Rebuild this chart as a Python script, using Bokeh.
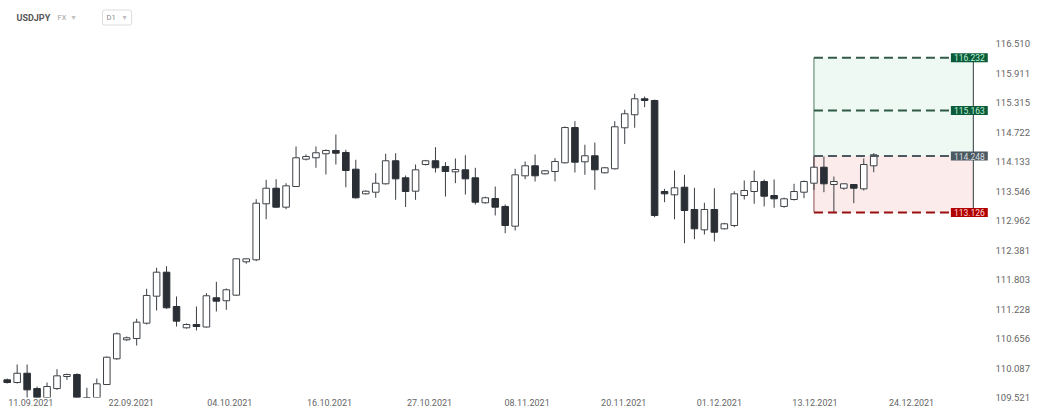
from bokeh.plotting import figure
from bokeh.models import FixedTicker, NumeralTickFormatter, Label, Range1d
from bokeh.embed import file_html
from bokeh.resources import INLINE

# ---- data (USDJPY, D1) ----
opens = [109.860, 109.808, 109.987, 109.693, 109.450, 109.693, 109.924, 109.962, 109.420, 109.350,
         109.770, 110.265, 110.632, 110.657, 110.955, 111.480, 111.949, 111.279, 110.865, 110.929,
         110.880, 111.449, 111.391, 111.500, 112.153, 112.192, 113.297, 113.606, 113.230, 113.640,
         114.185, 114.213, 114.293, 114.359, 114.319, 113.985, 113.495, 113.527, 113.694, 114.153,
         113.813, 113.547, 114.079, 114.153, 114.039, 113.933, 113.973, 113.813, 113.317, 113.402,
         113.244, 112.854, 113.853, 114.053, 113.893, 113.939, 114.113, 114.819, 114.133, 114.253,
         113.913, 113.993, 114.814, 115.076, 115.398, 115.364, 113.541, 113.475, 113.626, 113.184,
         112.782, 113.184, 112.802, 112.867, 113.461, 113.541, 113.740, 113.461, 113.244, 113.382,
         113.527, 113.706, 114.025, 113.680, 113.606, 113.680, 113.594, 114.053]
highs = [109.885, 110.155, 110.155, 109.732, 109.809, 110.065, 109.980, 109.987, 109.707, 109.885,
         110.310, 110.774, 110.696, 111.040, 111.625, 112.036, 112.067, 111.474, 110.950, 111.279,
         111.539, 111.761, 111.630, 112.220, 112.220, 113.388, 113.774, 113.786, 113.706, 114.439,
         114.279, 114.439, 114.380, 114.679, 114.373, 114.173, 113.560, 113.905, 114.293, 114.305,
         113.859, 114.079, 114.170, 114.425, 114.125, 114.199, 114.265, 114.013, 113.440, 113.640,
         113.283, 113.993, 114.139, 114.279, 113.970, 114.205, 114.840, 114.947, 114.473, 114.519,
         114.030, 114.947, 115.177, 115.499, 115.444, 115.380, 113.594, 113.959, 113.873, 113.614,
         113.317, 113.606, 112.920, 113.547, 113.760, 113.959, 113.780, 113.780, 113.420, 113.694,
         113.760, 114.239, 114.239, 113.839, 113.700, 113.690, 114.199, 114.305]
lows = [109.790, 109.790, 109.500, 109.300, 109.400, 109.668, 109.860, 109.250, 109.200, 109.300,
        109.760, 110.246, 110.612, 110.522, 110.929, 111.201, 111.234, 110.890, 110.850, 110.813,
        110.870, 111.182, 111.215, 111.488, 112.114, 112.165, 112.992, 113.220, 113.190, 113.630,
        114.159, 114.013, 113.879, 114.079, 113.626, 113.400, 113.480, 113.416, 113.680, 113.376,
        113.234, 113.376, 114.060, 113.919, 113.441, 113.706, 113.481, 113.283, 113.300, 113.065,
        112.716, 112.769, 113.785, 113.740, 113.880, 113.740, 114.100, 113.919, 113.873, 113.574,
        113.900, 113.980, 114.489, 114.814, 115.229, 113.032, 113.329, 112.992, 112.519, 112.598,
        112.690, 112.552, 112.790, 112.834, 113.382, 113.297, 113.244, 113.218, 113.220, 113.362,
        113.408, 113.574, 113.527, 113.111, 113.574, 113.309, 113.561, 113.925]
closes = [109.808, 109.987, 109.668, 109.400, 109.732, 109.937, 109.962, 109.350, 109.300, 109.784,
          110.296, 110.749, 110.671, 110.974, 111.494, 111.949, 111.254, 110.994, 110.929, 110.890,
          111.488, 111.383, 111.605, 112.211, 112.211, 113.309, 113.606, 113.230, 113.654, 114.213,
          114.239, 114.313, 114.359, 114.305, 113.959, 113.416, 113.547, 113.706, 114.153, 113.793,
          113.541, 113.973, 114.153, 114.013, 113.939, 113.979, 113.793, 113.329, 113.416, 113.230,
          112.867, 113.873, 114.053, 113.853, 113.953, 114.139, 114.819, 114.125, 114.253, 113.973,
          114.013, 114.834, 115.096, 115.398, 115.364, 113.065, 113.495, 113.614, 113.164, 112.802,
          113.184, 112.735, 112.901, 113.495, 113.561, 113.740, 113.447, 113.396, 113.396, 113.541,
          113.740, 114.025, 113.694, 113.740, 113.694, 113.606, 114.079, 114.273]

y_ticks = [109.521, 110.087, 110.656, 111.228, 111.803, 112.381, 112.962,
           113.546, 114.133, 114.722, 115.315, 115.911, 116.510]
x_tick_pos = [2.37, 12.45, 22.35, 32.36, 42.4, 52.2, 61.9, 71.5, 81.1, 90.8]
x_tick_labels = ["11.09.2021", "22.09.2021", "04.10.2021", "16.10.2021", "27.10.2021",
                 "08.11.2021", "20.11.2021", "01.12.2021", "13.12.2021", "24.12.2021"]

# trade levels drawn on the chart
level_tp2 = 116.232
level_tp1 = 115.163
level_entry = 114.248
level_sl = 113.126
zone_start = 81
zone_end = 97

FONT = "Roboto"
idx = list(range(len(opens)))
inc = [i for i in idx if closes[i] >= opens[i]]
dec = [i for i in idx if closes[i] < opens[i]]

p = figure(width=1042, height=417, output_backend="svg", toolbar_location=None,
           x_range=Range1d(-0.673, 98.725), y_range=Range1d(109.521, 117.400),
           y_axis_type="log", y_axis_location="right",
           min_border_left=0, min_border_top=0, min_border_bottom=20, min_border_right=52)
p.background_fill_color = "white"
p.border_fill_color = "white"
p.outline_line_color = None
p.grid.visible = False

# zones
p.quad(left=[zone_start], right=[zone_end], bottom=[level_entry], top=[level_tp2],
       fill_color="#eef9f3", line_color=None)
p.quad(left=[zone_start], right=[zone_end], bottom=[level_sl], top=[level_entry],
       fill_color="#fcebeb", line_color=None)
p.segment(x0=[zone_start], x1=[zone_start], y0=[level_entry], y1=[level_tp2],
          line_color="#4f7a66", line_width=1)
p.segment(x0=[zone_start], x1=[zone_start], y0=[level_sl], y1=[level_entry],
          line_color="#8c4f4f", line_width=1)
p.segment(x0=[zone_end], x1=[zone_end], y0=[level_sl], y1=[level_tp2],
          line_color="#2f3a3a", line_width=1)

# candles
wick = "#3a3f44"
p.segment(x0=idx, x1=idx, y0=lows, y1=highs, line_color=wick, line_width=1)
p.vbar(x=inc, width=0.66, top=[closes[i] for i in inc], bottom=[opens[i] for i in inc],
       fill_color="white", line_color="#3d4247", line_width=1)
p.vbar(x=dec, width=0.66, top=[opens[i] for i in dec], bottom=[closes[i] for i in dec],
       fill_color="#2a2f35", line_color="#2a2f35", line_width=1)

# dashed levels
levels = [level_tp2, level_tp1, level_entry, level_sl]
line_cols = ["#355a48", "#2f5a46", "#4e595f", "#9a1010"]
box_cols = ["#0b5a3a", "#0b5a3a", "#4b5960", "#b00000"]
txt_cols = ["#b9f0d2", "#b9f0d2", "#d9dee0", "#ffd6d6"]
for lv, lc in zip(levels, line_cols):
    p.segment(x0=[zone_start], x1=[zone_end], y0=[lv], y1=[lv], line_color=lc,
              line_width=2, line_dash="9 5")
for lv, bc, tc in zip(levels, box_cols, txt_cols):
    p.add_layout(Label(x=zone_end - 0.4, y=lv, text=f"{lv:.3f}", text_align="center",
                       text_baseline="middle", text_font=FONT, text_font_size="8.5px",
                       text_color=tc, background_fill_color=bc,
                       padding=dict(left=3, right=3, top=1, bottom=1)))

# axes
p.yaxis.ticker = FixedTicker(ticks=y_ticks)
p.yaxis.formatter = NumeralTickFormatter(format="0.000")
p.xaxis.ticker = FixedTicker(ticks=x_tick_pos)
p.xaxis.major_label_overrides = dict(zip(x_tick_pos, x_tick_labels))
for ax in (p.xaxis, p.yaxis):
    ax.axis_line_color = None
    ax.major_tick_line_color = None
    ax.minor_tick_line_color = None
    ax.major_tick_out = 0
    ax.major_tick_in = 0
    ax.major_label_text_font = FONT
    ax.major_label_text_color = "#666666"
p.yaxis.major_label_text_font_size = "9.5px"
p.yaxis.major_label_standoff = 5
p.xaxis.major_label_text_font_size = "9px"
p.xaxis.major_label_standoff = 1

# header
p.add_layout(Label(x=16, y=380, x_units="screen", y_units="screen", text="USDJPY",
                   text_font=FONT, text_font_size="9px", text_font_style="bold",
                   text_color="#555555", text_baseline="middle"))
p.add_layout(Label(x=57, y=380, x_units="screen", y_units="screen", text="FX",
                   text_font=FONT, text_font_size="7.5px", text_color="#a0a0a0",
                   text_baseline="middle"))
p.add_layout(Label(x=71, y=380, x_units="screen", y_units="screen", text="▾",
                   text_font="DejaVu Sans", text_font_size="8px", text_color="#c0c0c0",
                   text_baseline="middle"))
p.add_layout(Label(x=102, y=380, x_units="screen", y_units="screen", text="D1",
                   text_font=FONT, text_font_size="7.5px", text_color="#888888",
                   text_baseline="middle", border_line_color="#dddddd",
                   background_fill_color="white", border_radius=2,
                   padding=dict(left=4, right=16, top=3, bottom=3)))
p.add_layout(Label(x=122, y=380, x_units="screen", y_units="screen", text="▾",
                   text_font="DejaVu Sans", text_font_size="8px", text_color="#c0c0c0",
                   text_baseline="middle"))

open("out.html", "w").write(file_html(p, INLINE))
